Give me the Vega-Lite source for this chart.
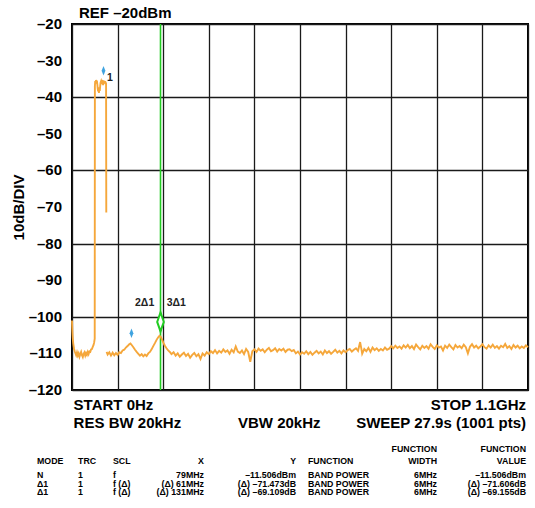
{
  "$schema": "https://vega.github.io/schema/vega-lite/v6.json",
  "width": 456,
  "height": 366,
  "autosize": {"type": "none"},
  "padding": {"left": 72, "top": 24, "right": 7, "bottom": 118},
  "background": "white",
  "config": {
    "view": {"stroke": "black", "strokeWidth": 2},
    "font": "Liberation Sans"
  },
  "datasets": {
    "trace": [
      {"f":0,"dbm":-101,"seg":1},{"f":0.5,"dbm":-102.8,"seg":1},{"f":1,"dbm":-104.2,"seg":1},{"f":1.5,"dbm":-105.3,"seg":1},{"f":2,"dbm":-106.1,"seg":1},{"f":3,"dbm":-107.3,"seg":1},{"f":4,"dbm":-108.1,"seg":1},{"f":5,"dbm":-108.8,"seg":1},{"f":6.5,"dbm":-109.4,"seg":1},{"f":8,"dbm":-109.9,"seg":1},
      {"f":10,"dbm":-110.5,"seg":1},{"f":12,"dbm":-109.7,"seg":1},{"f":14,"dbm":-110.6,"seg":1},{"f":16,"dbm":-110.0,"seg":1},{"f":18,"dbm":-110.9,"seg":1},{"f":20,"dbm":-110.2,"seg":1},{"f":22,"dbm":-109.6,"seg":1},{"f":24,"dbm":-110.5,"seg":1},{"f":26,"dbm":-111.0,"seg":1},{"f":28,"dbm":-110.1,"seg":1},
      {"f":30,"dbm":-109.7,"seg":1},{"f":32,"dbm":-110.6,"seg":1},{"f":34,"dbm":-109.9,"seg":1},{"f":36,"dbm":-110.4,"seg":1},{"f":38,"dbm":-109.6,"seg":1},{"f":40,"dbm":-110.2,"seg":1},{"f":42,"dbm":-109.5,"seg":1},{"f":44,"dbm":-109.6,"seg":1},{"f":46,"dbm":-108.9,"seg":1},{"f":48,"dbm":-108.8,"seg":1},
      {"f":50,"dbm":-108.2,"seg":1},{"f":52,"dbm":-107.7,"seg":1},{"f":53.5,"dbm":-107.0,"seg":1},{"f":54.8,"dbm":-106.0,"seg":1},{"f":55.2,"dbm":-37.0,"seg":1},{"f":56,"dbm":-35.6,"seg":1},{"f":57,"dbm":-36.3,"seg":1},{"f":58,"dbm":-35.3,"seg":1},{"f":59,"dbm":-35.9,"seg":1},{"f":60,"dbm":-35.5,"seg":1},
      {"f":61,"dbm":-36.4,"seg":1},{"f":62,"dbm":-37.6,"seg":1},{"f":63,"dbm":-38.4,"seg":1},{"f":64,"dbm":-37.3,"seg":1},{"f":65,"dbm":-38.8,"seg":1},{"f":66,"dbm":-37.4,"seg":1},{"f":67,"dbm":-38.3,"seg":1},{"f":68,"dbm":-36.9,"seg":1},{"f":69,"dbm":-36.0,"seg":1},{"f":70,"dbm":-35.7,"seg":1},
      {"f":71,"dbm":-36.4,"seg":1},{"f":72,"dbm":-35.3,"seg":1},{"f":73,"dbm":-35.9,"seg":1},{"f":74,"dbm":-35.5,"seg":1},{"f":75,"dbm":-36.7,"seg":1},{"f":76,"dbm":-35.4,"seg":1},{"f":77,"dbm":-36.1,"seg":1},{"f":78,"dbm":-35.7,"seg":1},{"f":79,"dbm":-36.3,"seg":1},{"f":80,"dbm":-35.6,"seg":1},
      {"f":81,"dbm":-36.4,"seg":1},{"f":82.2,"dbm":-36.0,"seg":1},{"f":82.7,"dbm":-71.5,"seg":1},
      {"f":83.5,"dbm":-109.6,"seg":2},{"f":86,"dbm":-110.3,"seg":2},{"f":90,"dbm":-109.7,"seg":2},{"f":94,"dbm":-110.6,"seg":2},{"f":98,"dbm":-109.8,"seg":2},{"f":102,"dbm":-110.5,"seg":2},{"f":106,"dbm":-109.9,"seg":2},{"f":110,"dbm":-110.4,"seg":2},{"f":114,"dbm":-109.7,"seg":2},{"f":118,"dbm":-109.9,"seg":2},
      {"f":122,"dbm":-109.2,"seg":2},{"f":126,"dbm":-109.0,"seg":2},{"f":130,"dbm":-108.4,"seg":2},{"f":134,"dbm":-108.0,"seg":2},{"f":138,"dbm":-107.5,"seg":2},{"f":141,"dbm":-107.3,"seg":2},{"f":144,"dbm":-107.7,"seg":2},{"f":148,"dbm":-108.3,"seg":2},{"f":152,"dbm":-109.0,"seg":2},{"f":156,"dbm":-109.6,"seg":2},
      {"f":160,"dbm":-110.1,"seg":2},{"f":164,"dbm":-110.6,"seg":2},{"f":168,"dbm":-110.2,"seg":2},{"f":172,"dbm":-110.8,"seg":2},{"f":176,"dbm":-110.3,"seg":2},{"f":180,"dbm":-110.7,"seg":2},{"f":184,"dbm":-110.0,"seg":2},{"f":188,"dbm":-109.6,"seg":2},{"f":192,"dbm":-108.9,"seg":2},{"f":196,"dbm":-108.0,"seg":2},
      {"f":200,"dbm":-107.2,"seg":2},{"f":204,"dbm":-106.3,"seg":2},{"f":208,"dbm":-105.6,"seg":2},{"f":211,"dbm":-105.2,"seg":2},{"f":214,"dbm":-105.5,"seg":2},{"f":217,"dbm":-106.2,"seg":2},{"f":220,"dbm":-107.0,"seg":2},{"f":224,"dbm":-107.9,"seg":2},{"f":228,"dbm":-108.6,"seg":2},{"f":232,"dbm":-109.2,"seg":2},
      {"f":236,"dbm":-109.6,"seg":2},{"f":240,"dbm":-110.2,"seg":2},{"f":245,"dbm":-109.7,"seg":2},{"f":250,"dbm":-110.6,"seg":2},{"f":255,"dbm":-110.0,"seg":2},{"f":260,"dbm":-110.9,"seg":2},{"f":265,"dbm":-110.3,"seg":2},{"f":270,"dbm":-109.8,"seg":2},{"f":275,"dbm":-110.7,"seg":2},{"f":280,"dbm":-110.1,"seg":2},
      {"f":285,"dbm":-111.2,"seg":2},{"f":290,"dbm":-110.4,"seg":2},{"f":295,"dbm":-109.9,"seg":2},{"f":300,"dbm":-110.8,"seg":2},{"f":305,"dbm":-110.2,"seg":2},{"f":310,"dbm":-111.5,"seg":2},{"f":315,"dbm":-110.0,"seg":2},{"f":320,"dbm":-110.6,"seg":2},{"f":325,"dbm":-109.7,"seg":2},{"f":330,"dbm":-110.2,"seg":2},
      {"f":335,"dbm":-109.4,"seg":2},{"f":340,"dbm":-109.9,"seg":2},{"f":345,"dbm":-109.1,"seg":2},{"f":350,"dbm":-110.0,"seg":2},{"f":355,"dbm":-109.3,"seg":2},{"f":360,"dbm":-109.8,"seg":2},{"f":365,"dbm":-108.9,"seg":2},{"f":370,"dbm":-109.6,"seg":2},{"f":375,"dbm":-109.2,"seg":2},{"f":380,"dbm":-110.1,"seg":2},
      {"f":385,"dbm":-109.0,"seg":2},{"f":390,"dbm":-109.7,"seg":2},{"f":395,"dbm":-108.1,"seg":2},{"f":400,"dbm":-109.5,"seg":2},{"f":405,"dbm":-109.9,"seg":2},{"f":410,"dbm":-109.2,"seg":2},{"f":415,"dbm":-110.2,"seg":2},{"f":420,"dbm":-108.8,"seg":2},{"f":425,"dbm":-109.6,"seg":2},{"f":430,"dbm":-112.3,"seg":2},
      {"f":435,"dbm":-109.4,"seg":2},{"f":440,"dbm":-108.9,"seg":2},{"f":445,"dbm":-109.6,"seg":2},{"f":450,"dbm":-108.7,"seg":2},{"f":455,"dbm":-109.3,"seg":2},{"f":460,"dbm":-108.9,"seg":2},{"f":465,"dbm":-109.7,"seg":2},{"f":470,"dbm":-109.0,"seg":2},{"f":475,"dbm":-108.5,"seg":2},{"f":480,"dbm":-109.4,"seg":2},
      {"f":485,"dbm":-109.1,"seg":2},{"f":490,"dbm":-108.6,"seg":2},{"f":495,"dbm":-109.5,"seg":2},{"f":500,"dbm":-108.8,"seg":2},{"f":505,"dbm":-109.2,"seg":2},{"f":510,"dbm":-108.7,"seg":2},{"f":515,"dbm":-109.6,"seg":2},{"f":520,"dbm":-109.0,"seg":2},{"f":525,"dbm":-108.9,"seg":2},{"f":530,"dbm":-109.4,"seg":2},
      {"f":535,"dbm":-109.1,"seg":2},{"f":540,"dbm":-110.0,"seg":2},{"f":545,"dbm":-109.5,"seg":2},{"f":550,"dbm":-110.3,"seg":2},{"f":555,"dbm":-109.7,"seg":2},{"f":560,"dbm":-110.1,"seg":2},{"f":565,"dbm":-109.4,"seg":2},{"f":570,"dbm":-110.2,"seg":2},{"f":575,"dbm":-109.6,"seg":2},{"f":580,"dbm":-110.4,"seg":2},
      {"f":585,"dbm":-109.8,"seg":2},{"f":590,"dbm":-109.3,"seg":2},{"f":595,"dbm":-110.0,"seg":2},{"f":600,"dbm":-109.5,"seg":2},{"f":605,"dbm":-110.3,"seg":2},{"f":610,"dbm":-109.2,"seg":2},{"f":615,"dbm":-109.9,"seg":2},{"f":620,"dbm":-109.4,"seg":2},{"f":625,"dbm":-110.1,"seg":2},{"f":630,"dbm":-109.6,"seg":2},
      {"f":635,"dbm":-109.0,"seg":2},{"f":640,"dbm":-109.8,"seg":2},{"f":645,"dbm":-109.3,"seg":2},{"f":650,"dbm":-110.0,"seg":2},{"f":655,"dbm":-109.2,"seg":2},{"f":660,"dbm":-109.7,"seg":2},{"f":665,"dbm":-109.1,"seg":2},{"f":670,"dbm":-108.8,"seg":2},{"f":675,"dbm":-109.5,"seg":2},{"f":680,"dbm":-109.0,"seg":2},
      {"f":685,"dbm":-108.6,"seg":2},{"f":690,"dbm":-109.3,"seg":2},{"f":695,"dbm":-106.9,"seg":2},{"f":698,"dbm":-108.7,"seg":2},{"f":700,"dbm":-110.1,"seg":2},{"f":705,"dbm":-108.8,"seg":2},{"f":710,"dbm":-109.4,"seg":2},{"f":715,"dbm":-108.5,"seg":2},{"f":720,"dbm":-109.6,"seg":2},{"f":725,"dbm":-108.4,"seg":2},
      {"f":730,"dbm":-109.1,"seg":2},{"f":735,"dbm":-108.6,"seg":2},{"f":740,"dbm":-109.3,"seg":2},{"f":745,"dbm":-108.8,"seg":2},{"f":750,"dbm":-109.2,"seg":2},{"f":755,"dbm":-108.4,"seg":2},{"f":760,"dbm":-109.0,"seg":2},{"f":765,"dbm":-108.7,"seg":2},{"f":770,"dbm":-108.0,"seg":2},{"f":775,"dbm":-108.6,"seg":2},
      {"f":780,"dbm":-107.9,"seg":2},{"f":785,"dbm":-108.5,"seg":2},{"f":790,"dbm":-108.1,"seg":2},{"f":795,"dbm":-108.7,"seg":2},{"f":800,"dbm":-107.8,"seg":2},{"f":805,"dbm":-108.4,"seg":2},{"f":810,"dbm":-107.7,"seg":2},{"f":815,"dbm":-108.6,"seg":2},{"f":820,"dbm":-108.0,"seg":2},{"f":825,"dbm":-108.8,"seg":2},
      {"f":830,"dbm":-107.6,"seg":2},{"f":835,"dbm":-108.3,"seg":2},{"f":840,"dbm":-108.9,"seg":2},{"f":845,"dbm":-107.9,"seg":2},{"f":850,"dbm":-108.5,"seg":2},{"f":855,"dbm":-108.0,"seg":2},{"f":860,"dbm":-108.7,"seg":2},{"f":865,"dbm":-107.5,"seg":2},{"f":870,"dbm":-108.2,"seg":2},{"f":875,"dbm":-108.8,"seg":2},
      {"f":880,"dbm":-107.8,"seg":2},{"f":885,"dbm":-108.4,"seg":2},{"f":890,"dbm":-108.1,"seg":2},{"f":895,"dbm":-109.2,"seg":2},{"f":900,"dbm":-107.9,"seg":2},{"f":905,"dbm":-108.5,"seg":2},{"f":910,"dbm":-107.6,"seg":2},{"f":915,"dbm":-108.3,"seg":2},{"f":920,"dbm":-108.9,"seg":2},{"f":925,"dbm":-107.7,"seg":2},
      {"f":930,"dbm":-108.4,"seg":2},{"f":935,"dbm":-108.0,"seg":2},{"f":940,"dbm":-108.6,"seg":2},{"f":945,"dbm":-107.6,"seg":2},{"f":950,"dbm":-108.3,"seg":2},{"f":955,"dbm":-110.0,"seg":2},{"f":960,"dbm":-108.2,"seg":2},{"f":965,"dbm":-107.5,"seg":2},{"f":970,"dbm":-108.4,"seg":2},{"f":975,"dbm":-107.9,"seg":2},
      {"f":980,"dbm":-108.6,"seg":2},{"f":985,"dbm":-108.1,"seg":2},{"f":990,"dbm":-107.5,"seg":2},{"f":995,"dbm":-108.3,"seg":2},{"f":1000,"dbm":-108.7,"seg":2},{"f":1005,"dbm":-107.8,"seg":2},{"f":1010,"dbm":-108.4,"seg":2},{"f":1015,"dbm":-107.6,"seg":2},{"f":1020,"dbm":-108.5,"seg":2},{"f":1025,"dbm":-108.0,"seg":2},
      {"f":1030,"dbm":-108.7,"seg":2},{"f":1035,"dbm":-107.9,"seg":2},{"f":1040,"dbm":-108.3,"seg":2},{"f":1045,"dbm":-107.4,"seg":2},{"f":1050,"dbm":-108.5,"seg":2},{"f":1055,"dbm":-108.0,"seg":2},{"f":1060,"dbm":-108.8,"seg":2},{"f":1065,"dbm":-107.7,"seg":2},{"f":1070,"dbm":-108.4,"seg":2},{"f":1075,"dbm":-107.9,"seg":2},
      {"f":1080,"dbm":-108.6,"seg":2},{"f":1085,"dbm":-108.1,"seg":2},{"f":1090,"dbm":-108.5,"seg":2},{"f":1095,"dbm":-107.8,"seg":2},{"f":1100,"dbm":-108.3,"seg":2}
    ],
    "blueLines": [{"f": 76}, {"f": 143.5}],
    "greenLines": [{"f": 213.5}],
    "blueMarkers": [{"f": 76, "dbm": -32.8}, {"f": 143.5, "dbm": -104.5}],
    "greenMarkers": [{"f": 213.5, "dbm": -101.4}],
    "markerLabels": [
      {"label": "1", "f": 84.4, "dbm": -34.8},
      {"label": "2Δ1", "f": 152, "dbm": -96.3},
      {"label": "3Δ1", "f": 228.4, "dbm": -96.3}
    ],
    "notesLeft": [
      {"label": "REF –20dBm", "f": 16.9, "dbm": -17.0},
      {"label": "START 0Hz", "f": 3.9, "dbm": -124.1},
      {"label": "RES BW 20kHz", "f": 3.9, "dbm": -128.9},
      {"label": "VBW 20kHz", "f": 400.4, "dbm": -128.9}
    ],
    "notesRight": [
      {"label": "STOP 1.1GHz", "f": 1095.2, "dbm": -124.1},
      {"label": "SWEEP 27.9s (1001 pts)", "f": 1095.2, "dbm": -128.9}
    ],
    "yLabels": [
      {"label": "–20", "dbm": -20}, {"label": "–30", "dbm": -30}, {"label": "–40", "dbm": -40},
      {"label": "–50", "dbm": -50}, {"label": "–60", "dbm": -60}, {"label": "–70", "dbm": -70},
      {"label": "–80", "dbm": -80}, {"label": "–90", "dbm": -90}, {"label": "–100", "dbm": -100},
      {"label": "–110", "dbm": -110}, {"label": "–120", "dbm": -120}
    ],
    "tableLeft": [
      {"label": "MODE", "f": -84.4, "dbm": -139.4},
      {"label": "TRC", "f": 14.5, "dbm": -139.4},
      {"label": "SCL", "f": 98.9, "dbm": -139.4},
      {"label": "FUNCTION", "f": 569.3, "dbm": -139.4},
      {"label": "N", "f": -84.4, "dbm": -143.1},
      {"label": "1", "f": 14.5, "dbm": -143.1},
      {"label": "f", "f": 98.9, "dbm": -143.1},
      {"label": "BAND POWER", "f": 569.3, "dbm": -143.1},
      {"label": "Δ1", "f": -84.4, "dbm": -145.6},
      {"label": "1", "f": 14.5, "dbm": -145.6},
      {"label": "f (Δ)", "f": 98.9, "dbm": -145.6},
      {"label": "BAND POWER", "f": 569.3, "dbm": -145.6},
      {"label": "Δ1", "f": -84.4, "dbm": -148.0},
      {"label": "1", "f": 14.5, "dbm": -148.0},
      {"label": "f (Δ)", "f": 98.9, "dbm": -148.0},
      {"label": "BAND POWER", "f": 569.3, "dbm": -148.0}
    ],
    "tableRight": [
      {"label": "FUNCTION", "f": 880.5, "dbm": -136.1},
      {"label": "FUNCTION", "f": 1095.2, "dbm": -136.1},
      {"label": "X", "f": 318.4, "dbm": -139.4},
      {"label": "Y", "f": 540.4, "dbm": -139.4},
      {"label": "WIDTH", "f": 880.5, "dbm": -139.4},
      {"label": "VALUE", "f": 1095.2, "dbm": -139.4},
      {"label": "79MHz", "f": 318.4, "dbm": -143.1},
      {"label": "–11.506dBm", "f": 540.4, "dbm": -143.1},
      {"label": "6MHz", "f": 880.5, "dbm": -143.1},
      {"label": "–11.506dBm", "f": 1095.2, "dbm": -143.1},
      {"label": "(Δ)  61MHz", "f": 318.4, "dbm": -145.6},
      {"label": "(Δ) –71.473dB", "f": 540.4, "dbm": -145.6},
      {"label": "6MHz", "f": 880.5, "dbm": -145.6},
      {"label": "(Δ) –71.606dB", "f": 1095.2, "dbm": -145.6},
      {"label": "(Δ) 131MHz", "f": 318.4, "dbm": -148.0},
      {"label": "(Δ) –69.109dB", "f": 540.4, "dbm": -148.0},
      {"label": "6MHz", "f": 880.5, "dbm": -148.0},
      {"label": "(Δ) –69.155dB", "f": 1095.2, "dbm": -148.0}
    ]
  },
  "layer": [
    {
      "data": {"name": "blueLines"},
      "mark": {"type": "rule", "color": "#6FB7E6", "strokeWidth": 1},
      "encoding": {
        "x": {
          "field": "f", "type": "quantitative",
          "scale": {"domain": [0, 1100], "nice": false, "zero": false},
          "axis": {
            "grid": true, "values": [0,110,220,330,440,550,660,770,880,990,1100],
            "labels": false, "ticks": false, "domain": false, "title": null,
            "gridColor": "#1a1a1a", "gridWidth": 1.3, "gridOpacity": 1
          }
        },
        "y": {
          "field": "dbm", "type": "quantitative",
          "scale": {"domain": [-120, -20], "nice": false, "zero": false},
          "axis": {
            "grid": true, "values": [-120,-110,-100,-90,-80,-70,-60,-50,-40,-30,-20],
            "labels": false, "ticks": false, "domain": false,
            "title": "10dB/DIV", "titleFont": "Liberation Sans", "titleFontSize": 15, "titleFontWeight": "bold", "titleColor": "black", "titlePadding": 46,
            "gridColor": "#1a1a1a", "gridWidth": 1.3, "gridOpacity": 1
          }
        }
      }
    },
    {
      "data": {"name": "greenLines"},
      "mark": {"type": "rule", "color": "#22CC22", "strokeWidth": 1.6},
      "encoding": {"x": {"field": "f", "type": "quantitative"}}
    },
    {
      "data": {"name": "trace"},
      "mark": {"type": "line", "color": "#F5A73B", "strokeWidth": 1.9},
      "encoding": {
        "x": {"field": "f", "type": "quantitative"},
        "y": {"field": "dbm", "type": "quantitative"},
        "detail": {"field": "seg", "type": "nominal"},
        "order": {"field": "f", "type": "quantitative"}
      }
    },
    {
      "data": {"name": "blueMarkers"},
      "mark": {"type": "point", "shape": "M0,-1L0.4,0L0,1L-0.4,0Z", "size": 90, "filled": true, "color": "#3FA3E0", "opacity": 1},
      "encoding": {
        "x": {"field": "f", "type": "quantitative"},
        "y": {"field": "dbm", "type": "quantitative"}
      }
    },
    {
      "data": {"name": "greenMarkers"},
      "mark": {"type": "point", "shape": "M0,-1L0.35,0L0,1L-0.35,0Z", "size": 360, "filled": false, "stroke": "#22CC22", "strokeWidth": 2, "fill": "white", "fillOpacity": 1, "opacity": 1},
      "encoding": {
        "x": {"field": "f", "type": "quantitative"},
        "y": {"field": "dbm", "type": "quantitative"}
      }
    },
    {
      "data": {"name": "markerLabels"},
      "mark": {"type": "text", "align": "left", "baseline": "middle", "font": "Liberation Sans", "fontSize": 10.5, "fontWeight": "bold", "color": "#222222"},
      "encoding": {
        "x": {"field": "f", "type": "quantitative"},
        "y": {"field": "dbm", "type": "quantitative"},
        "text": {"field": "label"}
      }
    },
    {
      "data": {"name": "yLabels"},
      "mark": {"type": "text", "align": "right", "baseline": "middle", "font": "Liberation Sans", "fontSize": 15, "fontWeight": "bold", "color": "black", "dx": -10},
      "encoding": {
        "x": {"datum": 0, "type": "quantitative"},
        "y": {"field": "dbm", "type": "quantitative"},
        "text": {"field": "label"}
      }
    },
    {
      "data": {"name": "notesLeft"},
      "mark": {"type": "text", "align": "left", "baseline": "middle", "font": "Liberation Sans", "fontSize": 15, "fontWeight": "bold", "color": "black"},
      "encoding": {
        "x": {"field": "f", "type": "quantitative"},
        "y": {"field": "dbm", "type": "quantitative"},
        "text": {"field": "label"}
      }
    },
    {
      "data": {"name": "notesRight"},
      "mark": {"type": "text", "align": "right", "baseline": "middle", "font": "Liberation Sans", "fontSize": 15, "fontWeight": "bold", "color": "black"},
      "encoding": {
        "x": {"field": "f", "type": "quantitative"},
        "y": {"field": "dbm", "type": "quantitative"},
        "text": {"field": "label"}
      }
    },
    {
      "data": {"name": "tableLeft"},
      "mark": {"type": "text", "align": "left", "baseline": "middle", "font": "Liberation Sans", "fontSize": 8.8, "fontWeight": "bold", "color": "black"},
      "encoding": {
        "x": {"field": "f", "type": "quantitative"},
        "y": {"field": "dbm", "type": "quantitative"},
        "text": {"field": "label"}
      }
    },
    {
      "data": {"name": "tableRight"},
      "mark": {"type": "text", "align": "right", "baseline": "middle", "font": "Liberation Sans", "fontSize": 8.8, "fontWeight": "bold", "color": "black"},
      "encoding": {
        "x": {"field": "f", "type": "quantitative"},
        "y": {"field": "dbm", "type": "quantitative"},
        "text": {"field": "label"}
      }
    }
  ]
}
